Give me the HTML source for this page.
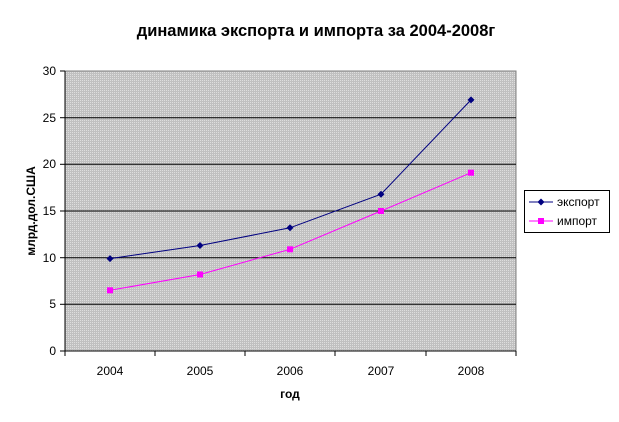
<!DOCTYPE html>
<html><head><meta charset="utf-8"><style>body{margin:0;background:#fff}svg{display:block}</style></head><body>
<svg width="619" height="422" xmlns="http://www.w3.org/2000/svg" font-family="Liberation Sans, Arial, sans-serif">
<defs><pattern id="p" width="2" height="2" patternUnits="userSpaceOnUse"><rect width="2" height="2" fill="#c0c0c0"/><rect width="1" height="1" fill="#dedede"/></pattern></defs>
<text x="316" y="36" text-anchor="middle" font-size="16.5" font-weight="bold">динамика экспорта и импорта за 2004-2008г</text>
<rect x="65" y="71" width="451" height="280" fill="url(#p)" stroke="#808080"/>
<g stroke="#000" stroke-width="1">
<line x1="65" y1="117.7" x2="516" y2="117.7"/><line x1="65" y1="164.3" x2="516" y2="164.3"/><line x1="65" y1="211" x2="516" y2="211"/><line x1="65" y1="257.7" x2="516" y2="257.7"/><line x1="65" y1="304.3" x2="516" y2="304.3"/>
<line x1="65" y1="71" x2="65" y2="351"/><line x1="65" y1="351" x2="516" y2="351"/>
<line x1="60" y1="71" x2="65" y2="71"/><line x1="60" y1="117.7" x2="65" y2="117.7"/><line x1="60" y1="164.3" x2="65" y2="164.3"/><line x1="60" y1="211" x2="65" y2="211"/><line x1="60" y1="257.7" x2="65" y2="257.7"/><line x1="60" y1="304.3" x2="65" y2="304.3"/><line x1="60" y1="351" x2="65" y2="351"/>
<line x1="155" y1="351" x2="155" y2="356"/><line x1="245" y1="351" x2="245" y2="356"/><line x1="335" y1="351" x2="335" y2="356"/><line x1="426" y1="351" x2="426" y2="356"/><line x1="516" y1="351" x2="516" y2="356"/><line x1="65" y1="351" x2="65" y2="356"/>
</g>
<g font-size="12" text-anchor="end">
<text x="56" y="75">30</text><text x="56" y="122">25</text><text x="56" y="168">20</text><text x="56" y="215">15</text><text x="56" y="262">10</text><text x="56" y="308">5</text><text x="56" y="355">0</text>
</g>
<g font-size="12" text-anchor="middle">
<text x="110" y="375">2004</text><text x="200" y="375">2005</text><text x="290" y="375">2006</text><text x="381" y="375">2007</text><text x="471" y="375">2008</text>
</g>
<text x="290" y="398" text-anchor="middle" font-size="12" font-weight="bold">год</text>
<text transform="translate(35,211) rotate(-90)" text-anchor="middle" font-size="12" font-weight="bold">млрд.дол.США</text>
<polyline points="110,258.6 200,245.5 290,227.8 381,194.2 471,99.9" fill="none" stroke="#000080" stroke-width="1"/>
<g fill="#000080">
<path d="M110,255.1l3.5,3.5l-3.5,3.5l-3.5,-3.5z"/><path d="M200,242l3.5,3.5l-3.5,3.5l-3.5,-3.5z"/><path d="M290,224.3l3.5,3.5l-3.5,3.5l-3.5,-3.5z"/><path d="M381,190.7l3.5,3.5l-3.5,3.5l-3.5,-3.5z"/><path d="M471,96.4l3.5,3.5l-3.5,3.5l-3.5,-3.5z"/>
</g>
<polyline points="110,290.3 200,274.5 290,249.3 381,211 471,172.7" fill="none" stroke="#ff00ff" stroke-width="1"/>
<g fill="#ff00ff">
<rect x="107" y="287.3" width="6" height="6"/><rect x="197" y="271.5" width="6" height="6"/><rect x="287" y="246.3" width="6" height="6"/><rect x="378" y="208" width="6" height="6"/><rect x="468" y="169.7" width="6" height="6"/>
</g>
<rect x="524.5" y="190.5" width="85" height="42" fill="#fff" stroke="#000"/>
<line x1="529" y1="202" x2="553" y2="202" stroke="#000080"/><path d="M541,198.5l3.5,3.5l-3.5,3.5l-3.5,-3.5z" fill="#000080"/>
<line x1="529" y1="221" x2="553" y2="221" stroke="#ff00ff"/><rect x="538" y="218" width="6" height="6" fill="#ff00ff"/>
<text x="557" y="206" font-size="12">экспорт</text>
<text x="557" y="225" font-size="12">импорт</text>
</svg>
</body></html>
